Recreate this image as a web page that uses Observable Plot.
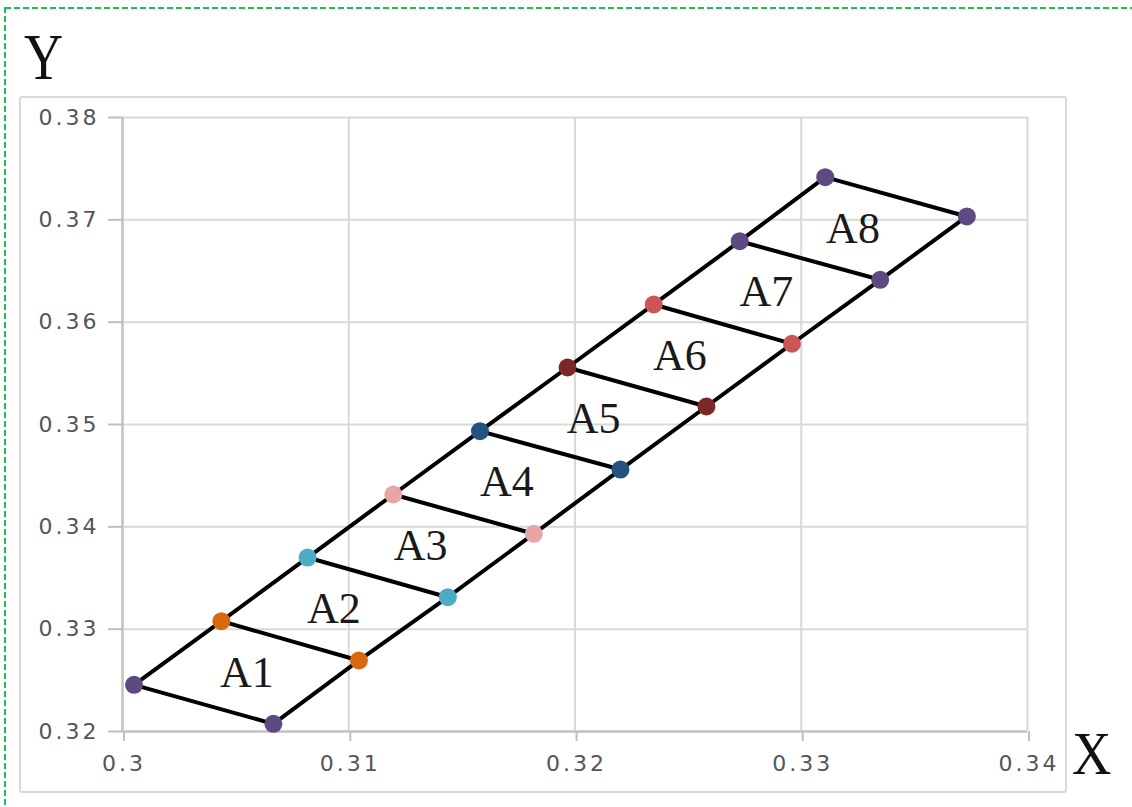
<!DOCTYPE html>
<html><head><meta charset="utf-8">
<script src="https://cdn.jsdelivr.net/npm/d3@7"></script>
<script src="https://cdn.jsdelivr.net/npm/@observablehq/plot@0.6"></script>
<style>
html,body{margin:0;padding:0;background:#fff;}
#chart{position:relative;width:1132px;height:807px;overflow:hidden;}
#chart svg{position:absolute;left:0;top:0;}
g[aria-label="x-axis tick"], g[aria-label="y-axis tick"]{stroke:#bfbfbf;stroke-width:2;}
</style></head><body><div id="chart"></div>
<script>
// Corner points of the quadrangles (upper-left edge and lower-right edge)
const leftX  = [0.30051,0.30437,0.30818,0.31197,0.31580,0.31967,0.32348,0.32728,0.33106];
const leftY  = [0.32456,0.33078,0.33700,0.34316,0.34935,0.35557,0.36173,0.36791,0.37417];
const rightX = [0.30667,0.31045,0.31438,0.31818,0.32201,0.32581,0.32959,0.33349,0.33732];
const rightY = [0.32075,0.32694,0.33312,0.33932,0.34560,0.35176,0.35789,0.36414,0.37033];
const pointColors = ["#5c4a80","#d9690f","#4bacc6","#e8a5a5","#24527e","#7a2828","#cd5555","#5c4a80","#5c4a80"];
const areaNames = ["A1","A2","A3","A4","A5","A6","A7","A8"];
const xTicks = [0.30,0.31,0.32,0.33,0.34];
const xTickLabels = ["0.3","0.31","0.32","0.33","0.34"];
const yTicks = [0.32,0.33,0.34,0.35,0.36,0.37,0.38];
const yTickLabels = ["0.32","0.33","0.34","0.35","0.36","0.37","0.38"];
const xTitle = "X";
const yTitle = "Y";

// Build tables
const points = [];
leftX.forEach((x,i)=>points.push({x, y:leftY[i], c:pointColors[i]}));
rightX.forEach((x,i)=>points.push({x, y:rightY[i], c:pointColors[i]}));

const segs = [];
leftX.forEach((x,i)=>segs.push({x, y:leftY[i], g:"left"}));
rightX.forEach((x,i)=>segs.push({x, y:rightY[i], g:"right"}));
leftX.forEach((x,i)=>{
  segs.push({x, y:leftY[i], g:"c"+i});
  segs.push({x:rightX[i], y:rightY[i], g:"c"+i});
});

const labels = areaNames.map((name,i)=>({
  name,
  x:(leftX[i]+leftX[i+1]+rightX[i]+rightX[i+1])/4,
  y:(leftY[i]+leftY[i+1]+rightY[i]+rightY[i+1])/4
}));

const chart = Plot.plot({
  width:1132, height:807,
  marginLeft:122, marginRight:105, marginTop:117, marginBottom:76,
  style:{background:"transparent", overflow:"visible"},
  x:{domain:[0.30,0.34]},
  y:{domain:[0.32,0.38]},
  marks:[
    Plot.gridX(xTicks,{stroke:"#d9d9d9", strokeOpacity:1, strokeWidth:2}),
    Plot.gridY(yTicks,{stroke:"#d9d9d9", strokeOpacity:1, strokeWidth:2}),
    Plot.ruleX([xTicks[0]],{stroke:"#c4c4c4", strokeWidth:2.5}),
    Plot.ruleY([yTicks[0]],{stroke:"#c4c4c4", strokeWidth:2.5}),
    Plot.axisX(xTicks,{tickFormat:(d,i)=>xTickLabels[i], tickSize:10, tickPadding:14, dx:1.5, label:null}),
    Plot.axisY(yTicks,{tickFormat:(d,i)=>yTickLabels[i], tickSize:14, tickPadding:9, label:null}),
    Plot.line(segs,{x:"x", y:"y", z:"g", stroke:"#000", strokeWidth:4}),
    Plot.dot(points,{x:"x", y:"y", r:9, fill:d=>d.c, stroke:"none"}),
    Plot.text(labels,{x:"x", y:"y", text:"name", fontSize:44, fontFamily:"Liberation Serif", fill:"#1a1a1a"})
  ]
});

const svg = d3.select(chart);
svg.selectAll('g[aria-label="x-axis tick label"] text, g[aria-label="y-axis tick label"] text')
  .style("font-size","22px").style("font-family","'DejaVu Sans', sans-serif")
  .style("fill","#555").style("letter-spacing","3px");
// outer chart box and dashed frame
svg.insert("rect",":first-child").attr("x",20).attr("y",97).attr("width",1046).attr("height",695)
  .attr("fill","#fff").attr("stroke","#d9d9d9").attr("stroke-width",2).attr("rx",2);
svg.append("rect").attr("x",5).attr("y",8).attr("width",1140).attr("height",820)
  .attr("fill","none").attr("stroke","#1fbf55").attr("stroke-width",2).attr("stroke-dasharray","6,3");
svg.append("text").text(yTitle).attr("font-family","Liberation Serif").attr("font-size",66)
  .attr("text-anchor","start").attr("fill","#111").attr("transform","translate(24,79) scale(0.82,1)");
svg.append("text").text(xTitle).attr("font-family","Liberation Serif").attr("font-size",62)
  .attr("text-anchor","start").attr("fill","#111").attr("transform","translate(1072,774) scale(0.88,1)");

document.getElementById("chart").appendChild(chart);
</script></body></html>
